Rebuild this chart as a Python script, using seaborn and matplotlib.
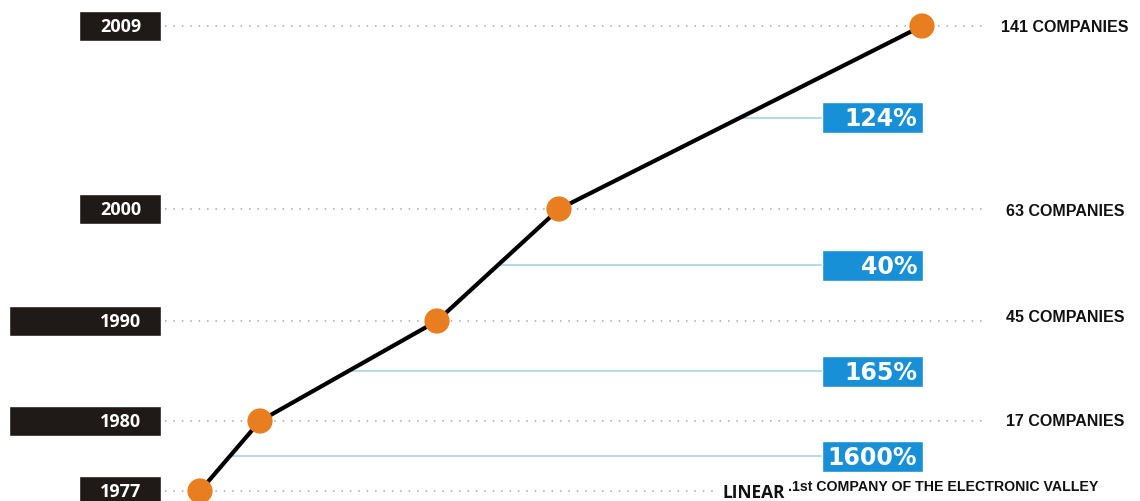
import matplotlib
matplotlib.use("Agg")
import matplotlib.pyplot as plt
import seaborn as sns
import pandas as pd

# ---- data ----
years = ["1977", "1980", "1990", "2000", "2009"]
companies = [1, 17, 45, 63, 141]
growth_labels = ["1600%", "165%", "40%", "124%"]
# position of each milestone on the (unitless) chart plane
chart_x = [200, 260, 437, 559, 922]
chart_y = [492, 422, 322, 210, 27]
first_company = "LINEAR"
first_note = ".1st COMPANY OF THE ELECTRONIC VALLEY"

# ---- styling ----
sns.set_theme(style="white")
plt.rcParams["font.family"] = ["DejaVu Sans"]
BLACK_BOX = "#1f1a17"
BLUE = "#1790d8"
ORANGE = "#e87e1f"
CONN = "#a9d3e8"
DOT = "#a8a8a8"
box_left = [79, 9, 9, 79, 79]       # long/short year tabs
box_right = 161
dot_end = [715, 985, 985, 985, 985]
label_shift = [0, 0, -4, 2, 0]      # small vertical nudges of company labels

df = pd.DataFrame({"x": chart_x, "y": chart_y, "year": years})

fig = plt.figure(figsize=(11.4, 5.02), dpi=100)
ax = fig.add_axes([0, 0, 1, 1])

# dotted guide lines per row
for i, y in enumerate(chart_y):
    ax.plot([165, dot_end[i]], [y, y], color=DOT, lw=1.1,
            linestyle=(0, (1, 4.5)), zorder=1)

# year tabs
ax.barh(chart_y, [box_right - l for l in box_left], left=box_left,
        height=30, color=BLACK_BOX, zorder=2)
for y, lab in zip(chart_y, years):
    ax.text(141, y, lab, color="white", fontsize=13, fontweight="bold",
            family="Open Sans", ha="right", va="center", zorder=3)

# growth boxes at segment midpoints, with connectors from the line
for i, lab in enumerate(growth_labels):
    mx = (chart_x[i] + chart_x[i + 1]) / 2
    my = (chart_y[i] + chart_y[i + 1]) / 2
    ax.plot([mx, 822], [my, my], color=CONN, lw=1.2, zorder=1.5)
    ax.barh([my], [101], left=[822], height=31, color=BLUE, zorder=2)
    ax.text(917, my + 1, lab, color="white", fontsize=17, fontweight="bold",
            family="DejaVu Sans", ha="right", va="center", zorder=3)

# main line and markers
sns.lineplot(data=df, x="x", y="y", sort=False, color="black", lw=3.0,
             ax=ax, zorder=4, legend=False)
sns.scatterplot(data=df, x="x", y="y", s=330, color=ORANGE, edgecolor="none",
                ax=ax, zorder=5, legend=False, clip_on=False)
ax.set_xlim(0, 1140)
ax.set_ylim(502, 0)
ax.axis("off")

# company labels
for i in range(1, len(companies)):
    ax.text(1065, chart_y[i] + label_shift[i], f"{companies[i]} COMPANIES",
            fontsize=11.5, fontweight="bold", family="Liberation Sans",
            ha="center", va="center", color="#111111", zorder=3)
ax.text(722, 498.5, first_company, fontsize=12.5, fontweight="bold",
        family="Open Sans", ha="left", va="baseline", color="#111111")
ax.text(788, 491.5, first_note, fontsize=10.2, fontweight="bold",
        family="Liberation Sans", ha="left", va="baseline", color="#111111")

fig.savefig("out.png", dpi=100)
